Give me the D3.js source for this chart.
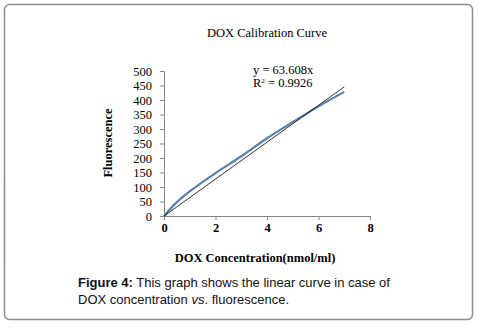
<!DOCTYPE html>
<html>
<head>
<meta charset="utf-8">
<script src="https://cdn.jsdelivr.net/npm/d3@7"></script>
<style>
  body { margin: 0; background: #fff; }
  svg text { font-family: "Liberation Serif", "Times New Roman", serif; }
</style>
</head>
<body>
<div id="chart"></div>
<script>
// measured data (DOX concentration vs fluorescence)
const concentration = [0, 0.5, 1, 2, 3, 4, 5, 6, 7];
const fluorescence = [0, 48, 85, 148, 206, 268, 324, 378, 428];
const slope = 63.608;
const rSquared = "0.9926";
const xTicks = [0, 2, 4, 6, 8];
const yTicks = [0, 50, 100, 150, 200, 250, 300, 350, 400, 450, 500];

const W = 478, H = 329;
const svg = d3.select("#chart").append("svg")
    .attr("width", W)
    .attr("height", H);

// outer rounded frame
svg.append("rect")
    .attr("x", 4.5).attr("y", 4.5)
    .attr("width", 468).attr("height", 315)
    .attr("rx", 5)
    .attr("fill", "none")
    .attr("stroke", "#8c8c8c")
    .attr("stroke-width", 1.5);

const x = d3.scaleLinear().domain([0, 8]).range([164, 370]);
const y = d3.scaleLinear().domain([0, 500]).range([216, 71]);

// title
svg.append("text")
    .attr("x", 267).attr("y", 37)
    .attr("text-anchor", "middle")
    .attr("font-size", 12.5)
    .text("DOX Calibration Curve");

// y axis
const yAxis = svg.append("g")
    .attr("transform", "translate(164,0)")
    .call(d3.axisLeft(y).tickValues(yTicks).tickSize(4).tickPadding(8));
yAxis.select(".domain").attr("stroke", "#868686");
yAxis.selectAll(".tick line").attr("stroke", "#868686");
yAxis.selectAll(".tick text")
    .attr("font-family", "Liberation Serif, serif")
    .attr("font-size", 12.5)
    .attr("fill", "#000");

// x axis
const xAxis = svg.append("g")
    .attr("transform", "translate(0,216)")
    .call(d3.axisBottom(x).tickValues(xTicks).tickSize(4).tickPadding(3));
xAxis.select(".domain").attr("stroke", "#868686");
xAxis.selectAll(".tick line").attr("stroke", "#868686");
xAxis.selectAll(".tick text")
    .attr("font-family", "Liberation Serif, serif")
    .attr("font-size", 12.5)
    .attr("font-weight", "bold")
    .attr("fill", "#000");

// axis labels
svg.append("text")
    .attr("transform", "translate(112,143) rotate(-90)")
    .attr("text-anchor", "middle")
    .attr("font-size", 12.5)
    .attr("font-weight", "bold")
    .text("Fluorescence");

svg.append("text")
    .attr("x", 255).attr("y", 262)
    .attr("text-anchor", "middle")
    .attr("font-size", 12.5)
    .attr("font-weight", "bold")
    .text("DOX Concentration(nmol/ml)");

// data curve (smoothed like Excel)
const pts = concentration.map((c, i) => [c, fluorescence[i]]);
svg.append("path")
    .datum(pts)
    .attr("fill", "none")
    .attr("stroke", "#5b80a8")
    .attr("stroke-width", 2.2)
    .attr("d", d3.line().x(d => x(d[0])).y(d => y(d[1])).curve(d3.curveCatmullRom.alpha(0.5)));

// linear trendline through origin
const xMax = d3.max(concentration);
svg.append("path")
    .datum([[0, 0], [xMax, slope * xMax]])
    .attr("fill", "none")
    .attr("stroke", "#000")
    .attr("stroke-width", 0.8)
    .attr("d", d3.line().x(d => x(d[0])).y(d => y(d[1])));

// equation
svg.append("text")
    .attr("x", 253).attr("y", 74)
    .attr("font-size", 12.5)
    .text("y = " + slope + "x");
const r2 = svg.append("text")
    .attr("x", 253).attr("y", 87)
    .attr("font-size", 12.5);
r2.append("tspan").text("R");
r2.append("tspan").attr("font-size", 7).attr("dy", -4).text("2");
r2.append("tspan").attr("dy", 4).text(" = " + rSquared);

// caption
const cap = svg.append("text")
    .attr("x", 78).attr("y", 287)
    .style("font-family", "Liberation Sans, Arial, sans-serif")
    .attr("font-size", 13)
    .attr("fill", "#111");
cap.append("tspan").attr("font-weight", "bold").text("Figure 4:");
cap.append("tspan").text(" This graph shows the linear curve in case of");
const cap2 = svg.append("text")
    .attr("x", 78).attr("y", 304)
    .style("font-family", "Liberation Sans, Arial, sans-serif")
    .attr("font-size", 13)
    .attr("fill", "#111");
cap2.append("tspan").text("DOX concentration ");
cap2.append("tspan").attr("font-style", "italic").text("vs");
cap2.append("tspan").text(". fluorescence.");
</script>
</body>
</html>
